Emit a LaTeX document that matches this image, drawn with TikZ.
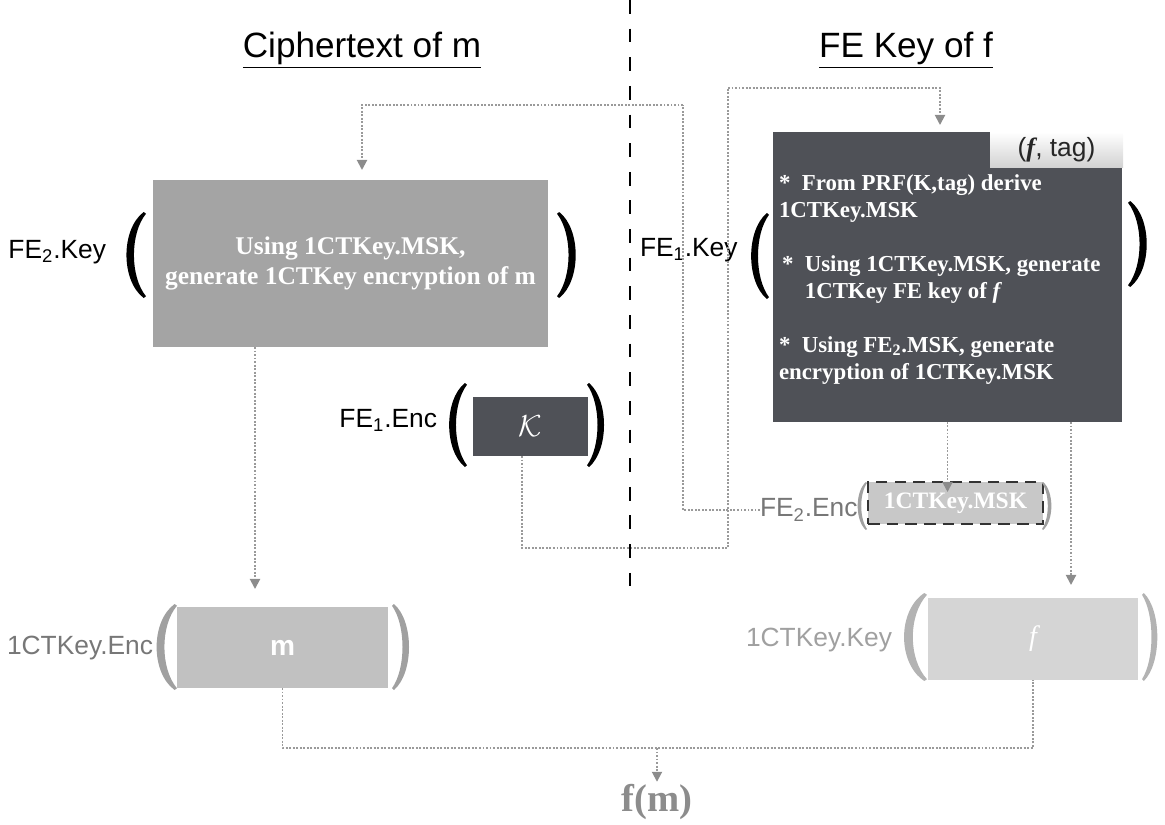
\documentclass[tikz,border=0pt]{standalone}
\usepackage{fontspec}
\setmainfont{Liberation Serif}
\setsansfont{Liberation Sans}
\usetikzlibrary{arrows.meta}

\definecolor{boxmid}{HTML}{A4A4A4}
\definecolor{boxdark}{HTML}{4F5157}
\definecolor{boxm}{HTML}{C1C1C1}
\definecolor{boxf}{HTML}{D5D5D5}
\definecolor{boxenc}{HTML}{C8C8C8}
\definecolor{linegray}{HTML}{9A9A9A}
\definecolor{tipgray}{HTML}{8C8C8C}
\definecolor{lblgray}{HTML}{777777}
\definecolor{lbllight}{HTML}{A0A0A0}

\begin{document}
\begin{tikzpicture}[
        x=0.02cm, y=-0.02cm,
        every node/.style={inner sep=0pt, outer sep=0pt},
        lbl/.style={font=\sffamily\fontsize{15}{18}\selectfont},
        ttl/.style={font=\sffamily\fontsize{20}{24}\selectfont},
        boxtext/.style={text=white, font=\bfseries\fontsize{14.5}{17.6}\selectfont},
        conn/.style={draw=linegray, line width=1.1pt, dash pattern=on 1.1pt off 0.9pt},
        arr/.style={conn, -{Triangle[length=5.7pt, width=5.7pt, color=tipgray]}},
        divider/.style={line width=1.5pt, dash pattern=on 7.8pt off 8.5pt},
        paren/.pic={
            \fill (0.9,-1) .. controls (-0.1,-0.6) and (-0.1,0.6) .. (0.9,1)
                -- (1,0.96) .. controls (0.3,0.5) and (0.3,-0.5) .. (1,-0.96) -- cycle;
        }
    ]
    \useasboundingbox (0,0) rectangle (1165,824);

    \node[ttl, name=ctitle] at (362,50) {\underline{Ciphertext of m}};
    \node[ttl, name=ktitle] at (906,50) {\underline{FE Key of f}};

    \node[
        fill=boxmid,
        minimum width=7.9cm,
        minimum height=3.34cm,
        boxtext,
        align=center,
        name=fe2keybox
    ] at (350.5,263.5) {Using 1CTKey.MSK,\\generate 1CTKey encryption of m};
    \node[lbl, anchor=east, name=fe2keylbl] at (106,252) {FE\textsubscript{2}.Key};
    \pic[xscale=23, yscale=43] at (123,255) {paren};
    \pic[xscale=-22, yscale=43] at (579,255) {paren};

    \node[
        fill=boxdark,
        minimum width=6.98cm,
        minimum height=5.8cm,
        name=fe1keybox
    ] at (947.5,277) {};
    \node[
        top color=white,
        bottom color=black!18,
        minimum width=2.66cm,
        minimum height=0.72cm,
        font=\sffamily\fontsize{15}{18}\selectfont,
        text=black!85,
        name=tagtab
    ] at (1056.5,150) {({\rmfamily\bfseries\itshape f}, tag)};
    \node[
        anchor=north west,
        boxtext,
        font=\bfseries\fontsize{13}{15.3}\selectfont,
        align=left,
        name=fe1keytext
    ] at (779,175) {\makebox[13pt][l]{*}From PRF(K,tag) derive\\
        1CTKey.MSK\\[15.3pt]
        \hspace{1.7pt}\makebox[13pt][l]{*}Using 1CTKey.MSK, generate\\
        \hspace{14.7pt}1CTKey FE key of \textit{f}\\[15.3pt]
        \makebox[13pt][l]{*}Using FE\textsubscript{2}.MSK, generate\\
        encryption of 1CTKey.MSK};
    \node[lbl, anchor=west, name=fe1keylbl] at (640,250) {FE\textsubscript{1}.Key};
    \pic[xscale=21, yscale=43] at (748,256) {paren};
    \pic[xscale=-22, yscale=43] at (1150,244) {paren};

    \node[
        fill=boxdark,
        minimum width=2.3cm,
        minimum height=1.18cm,
        text=white,
        font=\fontsize{16}{18}\selectfont,
        name=kbox
    ] at (530.5,426.5) {$\mathcal{K}$};
    \node[lbl, anchor=east, name=fe1enclbl] at (437,420) {FE\textsubscript{1}.Enc};
    \pic[xscale=21, yscale=42] at (446,425) {paren};
    \pic[xscale=-20, yscale=42] at (607,425) {paren};

    \node[
        fill=boxenc,
        draw=black!80,
        line width=1.5pt,
        dash pattern=on 6.6pt off 4pt,
        minimum width=3.5cm,
        minimum height=0.84cm,
        boxtext,
        font=\bfseries\fontsize{13.4}{16}\selectfont,
        name=fe2encbox
    ] at (955.5,503) {1CTKey.MSK};
    \node[lbl, text=lblgray, anchor=west, name=fe2enclbl] at (760,510) {FE\textsubscript{2}.Enc};
    \pic[lbllight, xscale=11, yscale=24] at (856,506) {paren};
    \pic[lbllight, xscale=-11, yscale=24] at (1053,506) {paren};

    \node[
        fill=boxm,
        minimum width=4.22cm,
        minimum height=1.62cm,
        text=white,
        font=\sffamily\bfseries\fontsize{16}{18}\selectfont,
        name=mbox
    ] at (282.5,647.5) {m};
    \node[lbl, text=lblgray, anchor=east, name=menclbl] at (153,648) {1CTKey.Enc};
    \pic[lbllight, xscale=24, yscale=43] at (153,647) {paren};
    \pic[lbllight, xscale=-20, yscale=43] at (412,647) {paren};

    \node[
        fill=boxf,
        minimum width=4.2cm,
        minimum height=1.64cm,
        text=white,
        font=\itshape\fontsize{16}{18}\selectfont,
        name=fbox
    ] at (1033,639) {f};
    \node[lbl, text=lbllight, anchor=east, name=fkeylbl] at (892,640) {1CTKey.Key};
    \pic[lbllight!80, xscale=27, yscale=44] at (900,637) {paren};
    \pic[lbllight!80, xscale=-18, yscale=44] at (1160,637) {paren};

    \node[
        text=tipgray,
        font=\bfseries\fontsize{22}{26}\selectfont,
        name=fm
    ] at (657,802) {f(m)};

    \coordinate (divtop) at (630,0);
    \coordinate (divbot) at (630,600);
    \coordinate (bend1) at (683,105);
    \coordinate (fe2keyin) at (362,170);
    \coordinate (kout) at (522,456);
    \coordinate (bend2) at (728,548);
    \coordinate (bend3) at (728,88);
    \coordinate (fe1keyin) at (940,125);
    \coordinate (fe2keyout) at (255,347);
    \coordinate (min) at (255,589);
    \coordinate (fe1keyout) at (1071,422);
    \coordinate (fin) at (1071,585);
    \coordinate (join) at (657,748);

    \draw[conn] (fe2enclbl.west) -| (bend1);
    \draw[arr] (bend1) -| (fe2keyin);
    \draw[conn] (kout) |- (bend2) -- (bend3);
    \draw[arr] (bend3) -| (fe1keyin);
    \draw[arr] (fe2keyout) -- (min);
    \draw[arr] (fe1keyout) -- (fin);
    \draw[arr] (fe1keybox.south) -- ([yshift=-0.2cm]fe1keybox.south |- fe2encbox.north);
    \draw[conn] (mbox.south) |- (join) -| (fbox.south);
    \draw[arr] (join) -- ([yshift=0.05cm]fm.north);

    \draw[divider] (divtop) -- (divbot);
\end{tikzpicture}
\end{document}
